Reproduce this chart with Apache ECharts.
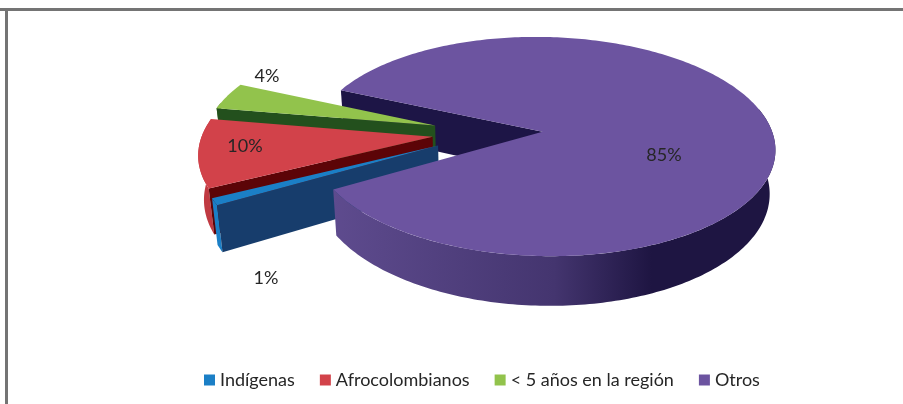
<!DOCTYPE html>
<html>
<head>
<meta charset="utf-8">
<style>
  html, body { margin: 0; padding: 0; background: #fff; }
  #chart { width: 903px; height: 404px; }
</style>
<script src="https://cdn.jsdelivr.net/npm/echarts@6/dist/echarts.min.js"></script>
</head>
<body>
<div id="chart"></div>
<script>
const categories = ['Indígenas', 'Afrocolombianos', '< 5 años en la región', 'Otros']
const values = [1, 10, 4, 85]

// colores: cara superior, lado exterior, pared del corte
const topColors = ['#1b7fc6', '#d2424a', '#92c34c', '#6c54a0']
const sideColors = ['#1b7fc6', '#c03a42', '#4f7d2a', '#5e4b8e']
const wallColors = ['#173d6c', '#5c0407', '#23501d', '#1d1546']
const labelPos = [[266, 278], [245, 146], [267, 76], [664, 155]]

// proyeccion del pastel 3D
const cx = 487.5
const cy = 133
const rx = 230
const ry = 108
const persp = 0.136
const depth = 43
const shrink = 0.02
const explode = 0.24
const startAngle = 150

const total = values.reduce((a, b) => a + b, 0)
const toRad = d => d * Math.PI / 180

const project = (u, v, t) => {
  const w = 1 / (1 - persp * v)
  return [
    cx + rx * u * w * (1 - shrink * t),
    cy + (ry * v + depth * t) * w
  ]
}

const sliceAngles = index => {
  let a0 = startAngle
  for (let i = 0; i < index; i++) a0 += values[i] / total * 360
  return [a0, a0 + values[index] / total * 360]
}

const offsetOf = index => {
  const [a0, a1] = sliceAngles(index)
  const mid = toRad((a0 + a1) / 2)
  return [explode * Math.cos(mid), explode * Math.sin(mid)]
}

const rimPoint = (index, deg, t) => {
  const [ou, ov] = offsetOf(index)
  return project(ou + Math.cos(toRad(deg)), ov + Math.sin(toRad(deg)), t)
}

const apexPoint = (index, t) => {
  const [ou, ov] = offsetOf(index)
  return project(ou, ov, t)
}

const arc = (index, from, to, t) => {
  const pts = []
  const steps = Math.max(2, Math.ceil(Math.abs(to - from)))
  for (let i = 0; i <= steps; i++) pts.push(rimPoint(index, from + (to - from) * i / steps, t))
  return pts
}

const wallShape = index => {
  const a0 = sliceAngles(index)[0]
  return [apexPoint(index, 0), rimPoint(index, a0, 0), rimPoint(index, a0, 1), apexPoint(index, 1)]
}

const sideFill = index => {
  if (index !== 3) return sideColors[index]
  return new echarts.graphic.LinearGradient(0, 0, 1, 0, [
    { offset: 0, color: '#5e4b8e' },
    { offset: 0.5, color: '#44356f' },
    { offset: 0.72, color: '#1e1542' },
    { offset: 1, color: '#1e1542' }
  ])
}

// lado exterior: solo la parte que mira al observador
const sidePolygon = index => {
  const [a0, a1] = sliceAngles(index)
  const pts = []
  for (let d = a0; d <= a1; d += 0.5) {
    if (Math.sin(toRad(d)) > -0.22) pts.push(d)
  }
  if (pts.length < 2) return null
  const from = pts[0]
  const to = pts[pts.length - 1]
  return arc(index, from, to, 0).concat(arc(index, to, from, 1))
}

const renderWall = index => () => ({
  type: 'polygon',
  shape: { points: wallShape(index) },
  style: { fill: wallColors[index] }
})

const renderSlice = (index, withWall) => () => {
  const [a0, a1] = sliceAngles(index)
  const children = []
  const side = sidePolygon(index)
  if (side) children.push({ type: 'polygon', shape: { points: side }, style: { fill: sideFill(index) } })
  if (withWall) children.push({ type: 'polygon', shape: { points: wallShape(index) }, style: { fill: wallColors[index] } })
  children.push({
    type: 'polygon',
    shape: { points: [apexPoint(index, 0)].concat(arc(index, a0, a1, 0)) },
    style: { fill: topColors[index] }
  })
  children.push({
    type: 'text',
    style: {
      text: values[index] + '%',
      x: labelPos[index][0],
      y: labelPos[index][1],
      fill: '#262626',
      font: '18px Lato',
      align: 'center',
      verticalAlign: 'middle'
    }
  })
  return { type: 'group', children }
}

const makeSeries = (index, z, renderItem) => ({
  type: 'custom',
  name: categories[index],
  coordinateSystem: 'none',
  z,
  silent: true,
  itemStyle: { color: topColors[index] },
  data: [values[index]],
  renderItem
})

const chart = echarts.init(document.getElementById('chart'))

chart.setOption({
  animation: false,
  backgroundColor: '#fff',
  legend: {
    data: categories,
    left: 199,
    top: 366,
    itemWidth: 11,
    itemHeight: 11,
    itemGap: 25,
    icon: 'rect',
    textStyle: { color: '#262626', fontSize: 18, fontFamily: 'Lato' }
  },
  graphic: [
    { type: 'rect', shape: { x: 0, y: 8, width: 903, height: 3 }, style: { fill: '#747474' } },
    { type: 'rect', shape: { x: 5, y: 8, width: 3, height: 396 }, style: { fill: '#747474' } }
  ],
  series: [
    makeSeries(3, 2, renderWall(3)),
    makeSeries(2, 3, renderSlice(2, true)),
    makeSeries(1, 4, renderSlice(1, true)),
    makeSeries(0, 5, renderSlice(0, true)),
    makeSeries(3, 6, renderSlice(3, false))
  ]
})
</script>
</body>
</html>
